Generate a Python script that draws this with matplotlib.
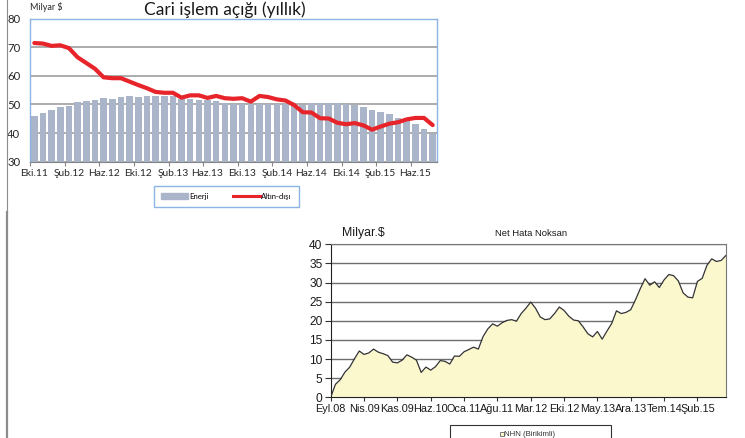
import matplotlib
matplotlib.use("Agg")
import matplotlib.pyplot as plt
from matplotlib.lines import Line2D
from matplotlib.patches import Rectangle, Patch
import numpy as np

W, H = 745, 438

# --- üst grafik: cari işlem açığı (yıllık), Eki.11 - Ağu.15 ---
top_labels = ["Eki.11", "Şub.12", "Haz.12", "Eki.12", "Şub.13", "Haz.13",
              "Eki.13", "Şub.14", "Haz.14", "Eki.14", "Şub.15", "Haz.15"]
enerji = [46.0, 47.1, 48.2, 49.0, 49.5, 50.7, 51.2, 51.5, 52.2, 51.8,
          52.5, 52.8, 52.6, 52.8, 52.8, 52.9, 52.8, 52.0, 51.8, 51.7,
          51.4, 51.2, 50.5, 50.3, 50.1, 50.0, 50.0, 50.0, 50.0, 50.3,
          50.0, 49.9, 50.4, 50.4, 50.6, 50.4, 50.2, 49.9, 49.2, 48.2,
          47.4, 46.6, 45.2, 44.8, 43.1, 41.4, 39.6]
altin_disi = [71.5, 71.3, 70.5, 70.7, 69.7, 66.5, 64.5, 62.5, 59.5, 59.2,
              59.2, 58.0, 56.8, 55.7, 54.4, 54.1, 54.1, 52.4, 53.2, 53.2,
              52.3, 53.0, 52.2, 52.0, 52.2, 51.0, 53.0, 52.6, 51.8, 51.4,
              49.8, 47.3, 47.2, 45.2, 45.1, 43.6, 43.1, 43.5, 42.7, 41.2,
              42.3, 43.3, 43.8, 44.8, 45.3, 45.3, 42.8]

# --- alt grafik: net hata noksan (birikimli), Eyl.08 - Ağu.15 ---
nhn_labels = ["Eyl.08", "Nis.09", "Kas.09", "Haz.10", "Oca.11", "Ağu.11",
              "Mar.12", "Eki.12", "May.13", "Ara.13", "Tem.14", "Şub.15"]
nhn = [0.0, 3.4, 4.6, 6.6, 7.9, 10.1, 12.1, 11.2, 11.6, 12.6,
       11.8, 11.4, 10.9, 9.2, 9.0, 9.7, 11.1, 10.5, 9.7, 6.5,
       7.9, 7.1, 8.0, 9.6, 9.4, 8.7, 10.8, 10.7, 11.9, 12.5,
       13.1, 12.6, 15.9, 17.9, 19.2, 18.6, 19.5, 20.1, 20.3, 19.9,
       21.9, 23.3, 24.9, 23.3, 21.0, 20.3, 20.5, 21.9, 23.6, 22.7,
       21.2, 20.2, 20.0, 18.4, 16.6, 15.8, 17.2, 15.2, 17.3, 19.3,
       22.6, 21.9, 22.2, 22.9, 25.5, 28.4, 31.0, 29.3, 30.2, 28.7,
       30.7, 32.1, 31.8, 30.4, 27.3, 26.2, 26.0, 30.3, 31.1, 34.5,
       36.2, 35.5, 35.8, 37.1]

CAL = ["Lato", "DejaVu Sans"]
ARL = ["Liberation Sans", "DejaVu Sans"]


def px(x0, y0, x1, y1):
    """piksel kutusu -> figure oranı [left, bottom, w, h]"""
    return [x0 / W, 1 - y1 / H, (x1 - x0) / W, (y1 - y0) / H]


fig = plt.figure(figsize=(W / 100, H / 100), dpi=100)
fig.patch.set_facecolor("white")

# sol kenar çizgisi
fig.add_artist(Line2D([7 / W, 7 / W], [1, 1 - 212 / H], color="#8c8c8c", lw=0.8))
fig.add_artist(Line2D([7 / W, 7 / W], [1 - 212 / H, 0], color="#8c8c8c", lw=1.6))

# ------------------------------------------------------------------
# üst grafik
# ------------------------------------------------------------------
ax1 = fig.add_axes(px(30, 18.7, 437, 161.7))
x1 = np.arange(len(enerji))
ax1.bar(x1, np.array(enerji) - 30, bottom=30, width=0.76,
        color="#aab5c9", zorder=2)
ax1.plot(x1, altin_disi, color="#e8242b", lw=3.0,
         solid_joinstyle="round", solid_capstyle="round", zorder=3)
ax1.set_xlim(-0.5, len(enerji) - 0.5)
ax1.set_ylim(30, 80)
ax1.set_yticks(range(30, 81, 10))
ax1.yaxis.grid(True, color="#a6a6a6", lw=1.3, zorder=0)
ax1.set_axisbelow(True)
ax1.set_xticks(np.arange(0, len(enerji), 4) - 0.5)
ax1.set_xticklabels([])
ax1.set_xticks(np.arange(0, len(enerji), 4), minor=True)
ax1.set_xticklabels(top_labels, minor=True, fontsize=7.4, family=CAL,
                    color="#262626")
ax1.tick_params(axis="x", which="major", length=3, color="#868686")
ax1.tick_params(axis="x", which="minor", length=0, pad=5)
ax1.tick_params(axis="y", length=0, pad=7)
for t in ax1.get_yticklabels():
    t.set_fontsize(8.2)
    t.set_family(CAL)
    t.set_color("#262626")
for s in ("top", "right", "left"):
    ax1.spines[s].set_color("#8db3e2")
    ax1.spines[s].set_linewidth(1.0)
ax1.spines["bottom"].set_color("#868686")

fig.text(30 / W, 1 - 7 / H, "Milyar $", fontsize=6.5, family=CAL,
         color="#262626", va="center")
fig.text(225 / W, 1 - 10 / H, "Cari işlem açığı (yıllık)", fontsize=12.5,
         family=CAL, color="#1a1a1a", ha="center", va="center")

leg = fig.legend([Patch(color="#aab5c9"), Line2D([], [], color="#e8242b", lw=2.2)],
                 ["Enerji", "Altın-dışı"], loc="center",
                 bbox_to_anchor=(226.5 / W, 1 - 196 / H), ncol=2,
                 prop={"family": CAL, "size": 5.6}, handlelength=3.4,
                 handleheight=0.9, handletextpad=0.2, columnspacing=3.2,
                 borderpad=0.9, borderaxespad=0, fancybox=False, framealpha=1)
leg.get_frame().set_edgecolor("#8db3e2")
leg.get_frame().set_linewidth(1.0)

# ------------------------------------------------------------------
# alt grafik
# ------------------------------------------------------------------
ax2 = fig.add_axes(px(330.7, 244.3, 726, 397.3))
x2 = np.arange(len(nhn))
ax2.fill_between(x2, nhn, 0, color="#fcf8cd", lw=0, zorder=2)
ax2.plot(x2, nhn, color="#333333", lw=0.9, zorder=3)
ax2.set_xlim(0, len(nhn) - 1)
ax2.set_ylim(0, 40)
ax2.set_yticks(range(0, 41, 5))
ax2.yaxis.grid(True, color="#6e6e6e", lw=1.0, zorder=1)
ax2.set_axisbelow(True)
ax2.set_xticks(np.arange(0, len(nhn), 7))
ax2.set_xticklabels(nhn_labels, fontsize=7.8, family=ARL, color="#1a1a1a")
ax2.tick_params(axis="x", length=3, pad=2, color="#333333")
ax2.tick_params(axis="y", length=4, pad=2, color="#333333")
for t in ax2.get_yticklabels():
    t.set_fontsize(8.6)
    t.set_family(ARL)
    t.set_color("#1a1a1a")
ax2.spines["left"].set_color("#222222")
ax2.spines["bottom"].set_color("#222222")
ax2.spines["top"].set_color("#777777")
ax2.spines["right"].set_color("#777777")

fig.text(363 / W, 1 - 233 / H, "Milyar.$", fontsize=8.8, family=ARL,
         color="#1a1a1a", ha="center", va="center")
fig.text(531 / W, 1 - 234 / H, "Net Hata Noksan", fontsize=6.8, family=ARL,
         color="#1a1a1a", ha="center", va="center")

# NHN lejant kutusu (alt kenardan taşıyor)
fig.add_artist(Rectangle((450 / W, -0.02), (611 - 450) / W, 0.02 + 13 / H,
                         transform=fig.transFigure, fill=False,
                         edgecolor="#333333", lw=0.8, clip_on=False))
fig.add_artist(Rectangle((500 / W, 1 - 436 / H), 4 / W, 4 / H,
                         transform=fig.transFigure, facecolor="#fcf8cd",
                         edgecolor="#666666", lw=0.6))
fig.text(504.5 / W, 1 - 434 / H, "NHN (Birikimli)", fontsize=5.6,
         family=ARL, color="#333333", va="center")

fig.savefig("out.png", dpi=100)
